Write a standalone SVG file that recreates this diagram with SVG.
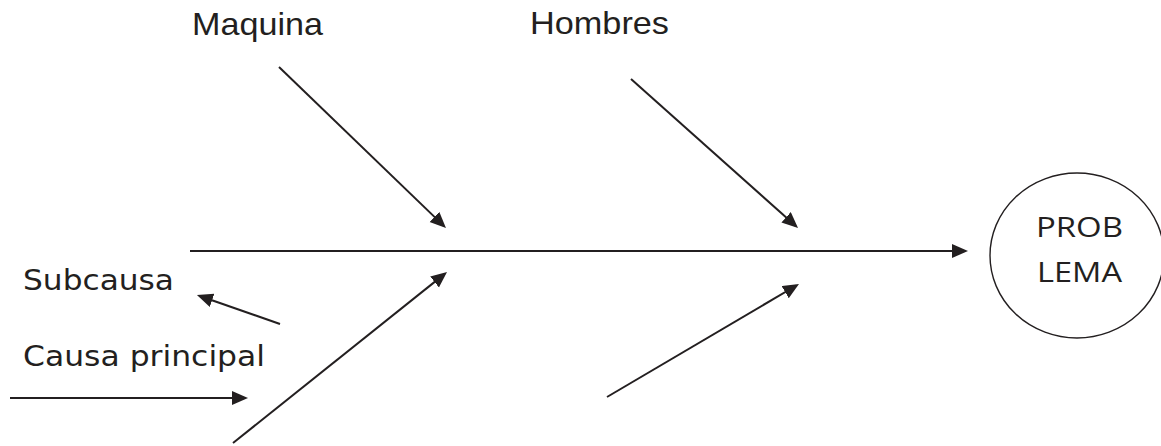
<svg xmlns="http://www.w3.org/2000/svg" width="1161" height="446" viewBox="0 0 1161 446">
<style>
.ln{stroke:#231f20;stroke-width:2;fill:none;marker-end:url(#ah)}
.t1{font-family:"Liberation Sans",Arial,sans-serif;font-size:32px;fill:#231f20}
.t2{font-family:"DejaVu Sans",Verdana,sans-serif;font-size:28px;fill:#231f20}
.t3{font-family:"Open Sans","Noto Sans",sans-serif;font-size:28px;fill:#231f20}
</style>
<defs>
<marker id="ah" markerUnits="userSpaceOnUse" markerWidth="18" markerHeight="16" refX="13" refY="7" orient="auto">
<path d="M0,0 L16,7 L0,14 z" fill="#231f20"/>
</marker>
</defs>
<rect width="1161" height="446" fill="#ffffff"/>
<g id="connectors">
<line class="ln" x1="190" y1="251" x2="965" y2="251"/>
<line class="ln" x1="279" y1="67" x2="443.8" y2="225.9"/>
<line class="ln" x1="631" y1="79" x2="795.8" y2="226"/>
<line class="ln" x1="233" y1="443" x2="444.7" y2="273.9"/>
<line class="ln" x1="607" y1="397" x2="796.4" y2="285.5"/>
<line class="ln" x1="280" y1="324" x2="199.8" y2="296"/>
<line class="ln" x1="10" y1="398" x2="245" y2="398"/>
</g>
<g id="maquina"><text class="t1" x="192" y="35" textLength="131" lengthAdjust="spacingAndGlyphs">Maquina</text></g>
<g id="hombres"><text class="t1" x="530" y="34" textLength="139" lengthAdjust="spacingAndGlyphs">Hombres</text></g>
<g id="subcausa"><text class="t2" x="23" y="290" textLength="151" lengthAdjust="spacingAndGlyphs">Subcausa</text></g>
<g id="causa-principal"><text class="t2" x="23" y="366" textLength="242" lengthAdjust="spacingAndGlyphs">Causa principal</text></g>
<g id="problema">
<ellipse cx="1077" cy="255.5" rx="87" ry="82.5" fill="none" stroke="#231f20" stroke-width="1.4"/>
<text class="t3" x="1036" y="237" textLength="87" lengthAdjust="spacingAndGlyphs">PROB</text>
<text class="t3" x="1037" y="282" textLength="85" lengthAdjust="spacingAndGlyphs">LEMA</text>
</g>
</svg>
